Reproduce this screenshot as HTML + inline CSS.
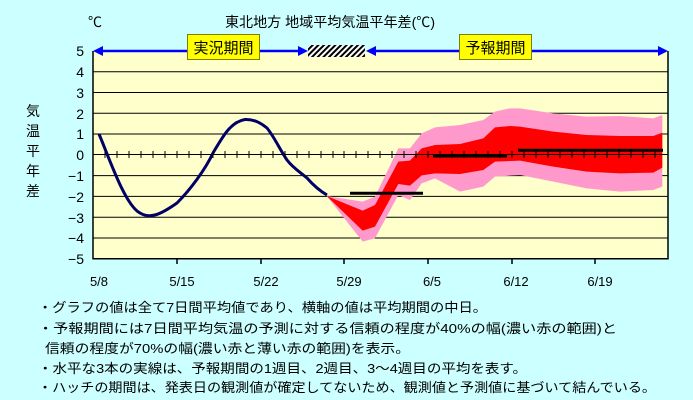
<!DOCTYPE html>
<html><head><meta charset="utf-8"><style>
body{margin:0;background:#ccffff;}
svg{display:block;font-family:"Liberation Sans","Noto Sans CJK JP",sans-serif;}
</style></head><body>
<svg width="693" height="400" viewBox="0 0 693 400" xmlns="http://www.w3.org/2000/svg">
<defs>
<pattern id="h" width="4" height="4" patternUnits="userSpaceOnUse" patternTransform="rotate(45)">
<rect width="4" height="4" fill="#fff"/><rect width="2" height="4" fill="#000"/></pattern>
</defs>
<rect width="693" height="400" fill="#ccffff"/>
<rect x="93" y="51" width="575" height="207.7" fill="#ffffcc"/>
<g stroke="#000" stroke-width="1">
<line x1="93" x2="668" y1="71.7" y2="71.7"/><line x1="93" x2="668" y1="92.5" y2="92.5"/>
<line x1="93" x2="668" y1="113.3" y2="113.3"/><line x1="93" x2="668" y1="134" y2="134"/>
<line x1="93" x2="668" y1="175.6" y2="175.6"/><line x1="93" x2="668" y1="196.4" y2="196.4"/>
<line x1="93" x2="668" y1="217.2" y2="217.2"/><line x1="93" x2="668" y1="238" y2="238"/>
</g>
<g transform="translate(320,20) scale(0.3333)">
<polygon fill="#ff99cc" points="20,528 128,545 165,530 235,385 270,385 305,340 345,322 420,315 490,300 525,275 570,265 600,265 700,280 800,290 900,288 1000,295 1027,285 1027,500 1000,510 900,515 800,505 700,485 600,465 525,470 490,500 420,515 345,475 305,490 270,540 235,525 165,655 128,665"/>
<polygon fill="#ff0000" points="20,528 128,572 165,555 235,425 270,422 305,385 345,375 420,372 490,355 525,322 570,318 600,320 700,335 800,345 900,348 1000,348 1027,338 1027,443 1000,458 900,460 800,455 700,440 600,422 525,425 490,450 420,462 345,460 305,466 270,497 235,492 165,620 128,632"/>
</g>
<line x1="93" x2="668" y1="154.5" y2="154.5" stroke="#000"/>
<path d="M99,134 C110,160 125,205 140,213 C150,219 160,215 177,203 C190,190 205,170 213,153 C222,138 230,122 245,119.5 C255,119 262,124 267,128 C275,138 280,150 287,160 C293,168 300,172 307,178 C314,186 320,191 327,195" fill="none" stroke="#000066" stroke-width="3"/>
<g stroke="#000" stroke-width="3">
<line x1="350" x2="423" y1="193.3" y2="193.3"/>
<line x1="433" x2="507" y1="156" y2="156"/>
<line x1="518" x2="663" y1="150.3" y2="150.3"/>
</g>
<path d="M93,51 V258.7 H668 V51" fill="none" stroke="#000" stroke-width="1.5"/>
<g stroke="#000" stroke-width="1.5">
<line x1="177" x2="177" y1="258" y2="264"/><line x1="261" x2="261" y1="258" y2="264"/>
<line x1="344" x2="344" y1="258" y2="264"/><line x1="428" x2="428" y1="258" y2="264"/>
<line x1="512" x2="512" y1="258" y2="264"/><line x1="595" x2="595" y1="258" y2="264"/>
</g>
<line x1="98" x2="303" y1="51" y2="51" stroke="#0000ff" stroke-width="2.5"/>
<polygon points="93,51 103,46 103,56" fill="#0000ff"/><polygon points="308,51 298,46 298,56" fill="#0000ff"/>
<rect x="308" y="45" width="57" height="12" fill="url(#h)"/>
<line x1="372" x2="662" y1="51" y2="51" stroke="#0000ff" stroke-width="2.5"/>
<polygon points="366,51 376,46 376,56" fill="#0000ff"/><polygon points="668,51 658,46 658,56" fill="#0000ff"/>
<rect x="187.5" y="34.5" width="72" height="25" fill="#ffff00" stroke="#808000"/>
<text x="223.5" y="53" font-size="15" text-anchor="middle">実況期間</text>
<rect x="459.5" y="34.5" width="72" height="25" fill="#ffff00" stroke="#808000"/>
<text x="495.5" y="53" font-size="15" text-anchor="middle">予報期間</text>
<text x="88" y="27" font-size="14">℃</text>
<text x="225" y="27" font-size="14" textLength="210" lengthAdjust="spacingAndGlyphs">東北地方  地域平均気温平年差(℃)</text>
<g font-size="14" text-anchor="end">
<text x="84" y="56">5</text><text x="84" y="77">4</text><text x="84" y="98">3</text><text x="84" y="119">2</text><text x="84" y="139">1</text><text x="84" y="160">0</text><text x="84" y="181">−1</text><text x="84" y="202">−2</text><text x="84" y="223">−3</text><text x="84" y="243">−4</text><text x="84" y="264">−5</text>
</g>
<g font-size="14" text-anchor="middle">
<text x="33" y="116">気</text><text x="33" y="136">温</text><text x="33" y="156">平</text><text x="33" y="176">年</text><text x="33" y="196">差</text>
</g>
<g font-size="13" text-anchor="middle">
<text x="99" y="286">5/8</text><text x="182" y="286">5/15</text><text x="266" y="286">5/22</text><text x="349" y="286">5/29</text><text x="432" y="286">6/5</text><text x="516" y="286">6/12</text><text x="600" y="286">6/19</text>
</g>
<g font-size="13" lengthAdjust="spacingAndGlyphs">
<text x="38" y="312" textLength="449" lengthAdjust="spacingAndGlyphs">・グラフの値は全て7日間平均値であり、横軸の値は平均期間の中日。</text>
<text x="38" y="333" textLength="579" lengthAdjust="spacingAndGlyphs">・予報期間には7日間平均気温の予測に対する信頼の程度が40%の幅(濃い赤の範囲)と</text>
<text x="45" y="353" textLength="365" lengthAdjust="spacingAndGlyphs">信頼の程度が70%の幅(濃い赤と薄い赤の範囲)を表示。</text>
<text x="38" y="373" textLength="489" lengthAdjust="spacingAndGlyphs">・水平な3本の実線は、予報期間の1週目、2週目、3～4週目の平均を表す。</text>
<text x="38" y="392" textLength="618" lengthAdjust="spacingAndGlyphs">・ハッチの期間は、発表日の観測値が確定してないため、観測値と予測値に基づいて結んでいる。</text>
</g>
<path stroke="#000" stroke-width="1" d="M105,151v7M117,151v7M129,151v7M141,151v7M153,151v7M165,151v7M177,151v7M189,151v7M201,151v7M213,151v7M225,151v7M237,151v7M249,151v7M261,151v7M273,151v7M285,151v7M297,151v7M309,151v7M321,151v7M333,151v7M344,151v7M356,151v7M368,151v7M380,151v7M392,151v7M404,151v7M416,151v7M428,151v7M440,151v7M452,151v7M464,151v7M476,151v7M488,151v7M500,151v7M512,151v7M524,151v7M536,151v7M548,151v7M560,151v7M572,151v7M584,151v7M595,151v7M607,151v7M619,151v7M631,151v7M643,151v7M655,151v7"/>
</svg>
</body></html>
